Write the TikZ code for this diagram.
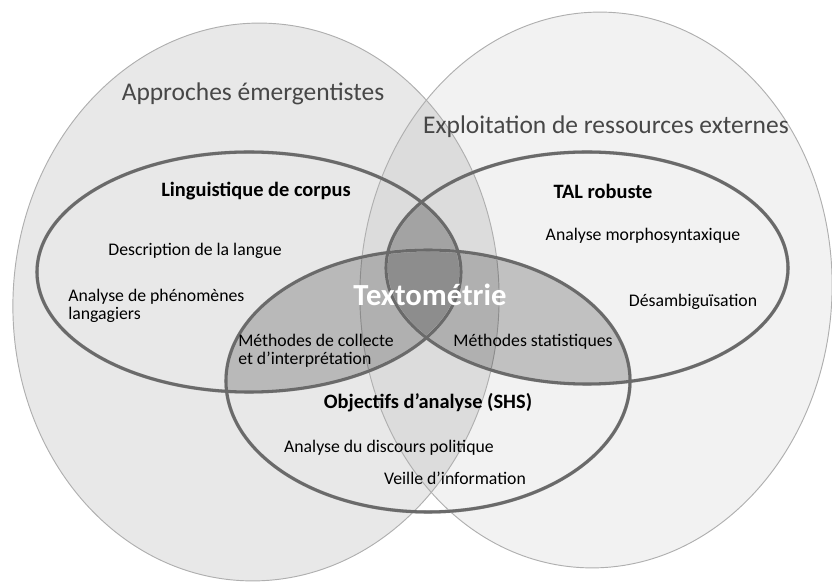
\documentclass[tikz,border=0pt]{standalone}
\usepackage{fontspec}
\setmainfont{Carlito}
\usetikzlibrary{positioning}
\definecolor{cline}{HTML}{6A6A6A}
\definecolor{cthin}{HTML}{AFAFAF}
\definecolor{cleft}{HTML}{E8E8E8}
\definecolor{cright}{HTML}{F2F2F2}
\definecolor{clens}{HTML}{DCDCDC}
\definecolor{ccore}{HTML}{8D8D8D}
\definecolor{ctitle}{HTML}{474747}
\tikzset{
  every picture/.style={font=\fontsize{13.3}{13.6}\selectfont},
  field/.style={draw=cthin, line width=0.7pt},
  ring/.style={draw=cline, line width=2.3pt},
  ringshadow/.style={draw=black!25, line width=2.6pt, shift={(0.8,1.6)}},
  tint/.style={fill=black, fill opacity=#1},
  tint/.default=0.2,
  title/.style={font=\fontsize{19.1}{22}\selectfont, text=ctitle},
  head/.style={font=\fontsize{15.3}{18}\selectfont\bfseries},
  texto/.style={font=\fontsize{23}{27}\selectfont\bfseries, text=white},
  item/.style={align=left, inner sep=0pt, anchor=west},
}

\begin{document}
\begin{tikzpicture}[x=0.75pt, y=-0.75pt]
  \useasboundingbox (0,0) rectangle (832,584);
  % centres of the five ellipses
  \coordinate (cEmer) at (256,302);
  \coordinate (cExt) at (596,290);
  \coordinate (cLing) at (249,272);
  \coordinate (cTal) at (587,268);
  \coordinate (cObj) at (428,381);
  \def\ellEmer{[rotate around={-3:(cEmer)}] (cEmer) ellipse [x radius=243, y radius=279]}
  \def\ellExt{[rotate around={-3:(cExt)}] (cExt) ellipse [x radius=236, y radius=278]}
  \def\ellLing{(cLing) ellipse [x radius=212, y radius=120]}
  \def\ellTal{(cTal) ellipse [x radius=201, y radius=116]}
  \def\ellObj{(cObj) ellipse [x radius=202, y radius=131]}

  % the two large fields
  \fill[cleft] \ellEmer;
  \fill[cright] \ellExt;
  \begin{scope}
    \clip \ellEmer;
    \fill[clens] \ellExt;
  \end{scope}
  \draw[field] \ellEmer;
  \draw[field] \ellExt;

  % shaded intersections
  \begin{scope}
    \clip \ellObj;
    \fill[tint] \ellLing;
    \fill[tint] \ellTal;
  \end{scope}
  \begin{scope}
    \clip \ellLing;
    \fill[tint=0.26] \ellTal;
  \end{scope}
  \begin{scope}
    \clip \ellLing;
    \clip \ellTal;
    \fill[ccore] \ellObj;
  \end{scope}

  % the three rings
  \foreach \e in {\ellLing, \ellTal, \ellObj} \draw[ringshadow] \e;
  \draw[ring] \ellLing;
  \draw[ring] \ellTal;
  \draw[ring] \ellObj;

  % labels
  \node[title] (emer) at (253,94) {Approches émergentistes};
  \node[title] (ext) at (606,127) {Exploitation de ressources externes};
  \node[head] (ling) at (256,191) {Linguistique de corpus};
  \node (desc) at (195,251) {Description de la langue};
  \node[item] (phen) at (68,306) {Analyse de phénomènes\\langagiers};
  \node[head] (tal) at (603,191) {TAL robuste};
  \node (morpho) at (643,236) {Analyse morphosyntaxique};
  \node (desamb) at (693,302) {Désambiguïsation};
  \node[texto] (texto) at (430,295) {Textométrie};
  \node[item] (collecte) at (238,351) {Méthodes de collecte\\et d’interprétation};
  \node (stat) at (533,342) {Méthodes statistiques};
  \node[head] (obj) at (428,403) {Objectifs d’analyse (SHS)};
  \node (discours) at (389,448) {Analyse du discours politique};
  \node (veille) at (455,478) {Veille d’information};
\end{tikzpicture}
\end{document}
